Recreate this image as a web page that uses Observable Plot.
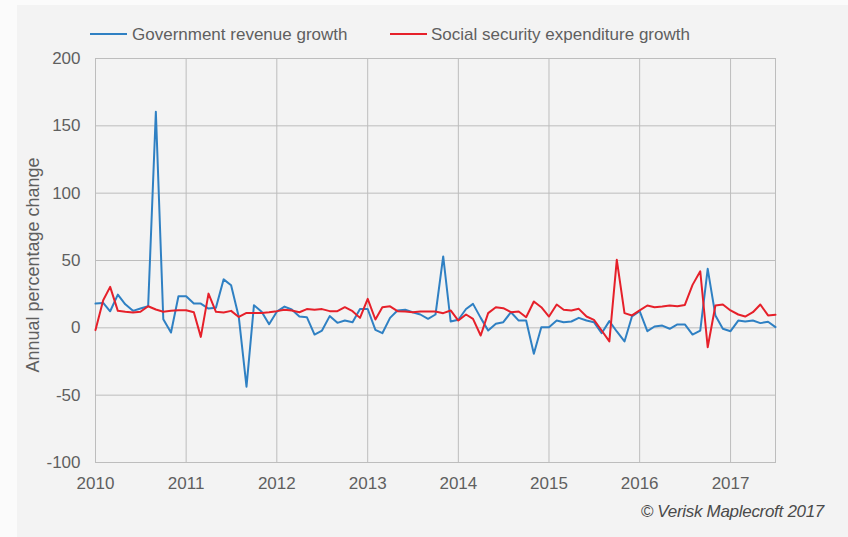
<!DOCTYPE html>
<html>
<head>
<meta charset="utf-8">
<script src="https://cdn.jsdelivr.net/npm/d3@7"></script>
<script src="https://cdn.jsdelivr.net/npm/@observablehq/plot@0.6"></script>
<style>
  html, body { margin: 0; padding: 0; background: #fbfbfb; }
  #wrap { position: relative; width: 848px; height: 537px; overflow: hidden; }
  #panel { position: absolute; left: 17px; top: 5px; width: 831px; height: 532px; background: #f3f3f3; }
  #chart { position: absolute; left: 0; top: 0; }
</style>
</head>
<body>
<div id="wrap"><div id="panel"></div><div id="chart"></div></div>
<script>
// Data (monthly, Jan 2010 – Jul 2017)
const startMonth = "2010-01";
const endMonth = "2017-07";
const revenueGrowth = [
  18, 18.5, 12.3, 24.7, 17.5, 12.6, 14.3, 16, 160.5, 6.4, -3.5, 23.5,
  23.5, 18, 18, 14.3, 15, 36, 31.6, 8, -43.7, 16.8, 11.9, 2.7,
  12, 15.8, 13.6, 8.4, 7.9, -5, -2, 8.7, 3.7, 5.4, 4.2, 14,
  14, -1.5, -4, 7.4, 12.9, 13.4, 11.6, 9.9, 6.7, 9.9, 53, 4.7,
  6, 14, 17.8, 7.4, -2, 3, 4.2, 11.6, 5.4, 5.4, -19.3, 0.5,
  0.5, 5.4, 4.2, 4.7, 7.4, 5.4, 4.2, -4, 5, -2.7, -10.1, 8.4,
  12.4, -2.5, 1, 1.7, -0.7, 2.5, 2.5, -5, -2, 43.8, 9.2, -0.7,
  -2.5, 5.4, 4.7, 5.4, 3.5, 4.5, 0.5
];
const socialGrowth = [
  -1.7, 20.5, 30.4, 12.6, 11.9, 11.4, 11.9, 16, 13.6, 12, 12.6, 13,
  13, 11.6, -6.7, 25.4, 11.9, 11.4, 12.6, 8.1, 11.1, 11.1, 11.1, 11.6,
  12.4, 13.4, 12.9, 11.6, 13.9, 13.4, 13.9, 12.4, 12.4, 15.3, 12.4, 7.4,
  21.5, 6.2, 15.3, 16, 12.4, 12.1, 11.6, 12.1, 12.1, 12.1, 10.9, 12.9,
  5.4, 9.9, 6.7, -5.7, 10.9, 15.3, 14.6, 11.6, 12.1, 7.9, 19.6, 15.3,
  8.4, 17.3, 13.4, 12.9, 14.1, 8.4, 5.9, -2, -10.1, 50.5, 10.9, 9.2,
  12.9, 16.6, 15.3, 15.8, 16.6, 16, 17, 31.9, 42, -14.4, 16.6, 17.3,
  12.9, 9.9, 8.4, 11.6, 17.3, 9.2, 9.7
];
const seriesNames = ["Government revenue growth", "Social security expenditure growth"];
const seriesColors = ["#2f80c3", "#e6202a"];
const yearTicks = ["2010", "2011", "2012", "2013", "2014", "2015", "2016", "2017"];
const yTicks = [-100, -50, 0, 50, 100, 150, 200];
const yLabel = "Annual percentage change";
const caption = "© Verisk Maplecroft 2017";

const parseMonth = d3.utcParse("%Y-%m");
const months = d3.utcMonth.range(parseMonth(startMonth), d3.utcMonth.offset(parseMonth(endMonth), 1));
const years = yearTicks.map(d3.utcParse("%Y"));

const rows = [];
months.forEach((m, i) => {
  rows.push({date: m, value: revenueGrowth[i], series: seriesNames[0]});
});
months.forEach((m, i) => {
  rows.push({date: m, value: socialGrowth[i], series: seriesNames[1]});
});

const font = "'Liberation Sans', Arial, sans-serif";
const textColor = "#5f5f5f";
const gridColor = "#bdbdbd";

const svg = Plot.plot({
  width: 848,
  height: 537,
  marginLeft: 95,
  marginRight: 73,
  marginTop: 58,
  marginBottom: 75,
  style: {background: "transparent", fontFamily: font, fontSize: "17px", color: textColor, overflow: "visible"},
  x: {type: "utc", domain: [months[0], months[months.length - 1]]},
  y: {domain: [-100, 200]},
  color: {domain: seriesNames, range: seriesColors},
  marks: [
    Plot.gridX(years, {stroke: gridColor, strokeOpacity: 1, strokeWidth: 1}),
    Plot.gridY(yTicks, {stroke: gridColor, strokeOpacity: 1, strokeWidth: 1}),
    Plot.frame({stroke: gridColor, strokeWidth: 1}),
    Plot.axisX(years, {tickSize: 0, tickPadding: 14, tickFormat: "%Y", label: null, fill: textColor}),
    Plot.axisY(yTicks, {tickSize: 0, tickPadding: 15, label: null, fill: textColor, tickFormat: d => String(d)}),
    Plot.lineY(rows, {x: "date", y: "value", stroke: "series", strokeWidth: 2, curve: "linear"})
  ]
});

const s = d3.select(svg);
// Y axis title
s.append("text")
  .attr("transform", "translate(39,265) rotate(-90)")
  .attr("text-anchor", "middle")
  .attr("fill", textColor)
  .style("font-family", font)
  .style("font-size", "18px")
  .text(yLabel);

// Legend
const legendPos = [{x: 90, tx: 132}, {x: 390, tx: 431}];
seriesNames.forEach((name, i) => {
  s.append("line")
    .attr("x1", legendPos[i].x).attr("x2", legendPos[i].x + 37)
    .attr("y1", 34).attr("y2", 34)
    .attr("stroke", seriesColors[i]).attr("stroke-width", 2);
  s.append("text")
    .attr("x", legendPos[i].tx).attr("y", 40)
    .attr("text-anchor", "start")
    .attr("fill", textColor)
    .style("font-family", font)
    .style("font-size", "17px")
    .text(name);
});

// Caption
s.append("text")
  .attr("x", 824).attr("y", 517)
  .attr("text-anchor", "end")
  .attr("fill", "#4a4a4a")
  .style("font-family", font)
  .style("font-size", "17px")
  .style("font-style", "italic")
  .style("letter-spacing", "-0.3px")
  .text(caption);

document.getElementById("chart").appendChild(svg);
</script>
</body>
</html>
